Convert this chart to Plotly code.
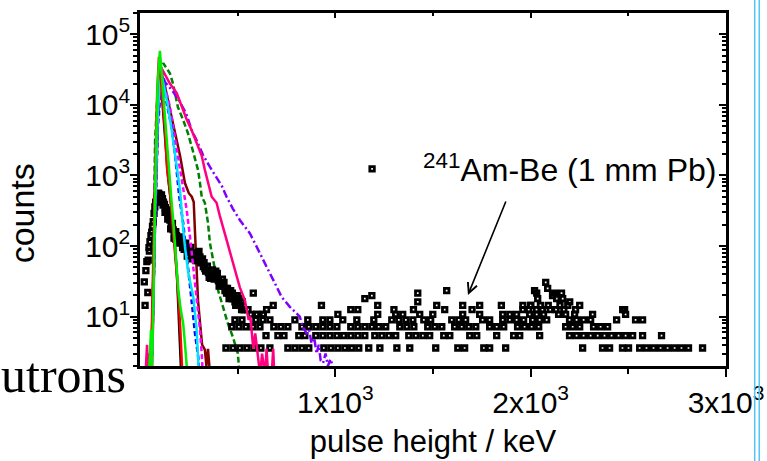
import math
import plotly.graph_objects as go

FONT = "Liberation Sans, Arial, sans-serif"

# ---------------- spectra (pulse height keV, counts) ----------------
black_x = [40, 60, 76, 90, 102, 112, 122, 132, 143, 155, 167, 179, 190, 200, 206, 214]
black_y = [1, 4, 300, 6000, 20000, 14000, 6000, 2400, 1000, 500, 230, 100, 35, 8, 2.5, 1]

red_x = [40, 60, 76, 88, 97, 106, 116, 128, 138, 153, 169, 188, 205, 213, 220]
red_y = [1, 6, 700, 15000, 48000, 24000, 10000, 4400, 1300, 600, 170, 42, 8, 2.7, 1]

green_x = [40, 52, 56, 62, 70, 78, 90, 102, 112, 123, 135, 148, 160, 172, 184, 196, 208, 221, 230, 239, 248]
green_y = [1, 3, 6.5, 2, 30, 800, 20000, 58000, 25000, 10000, 3500, 1000, 480, 200, 70, 24, 13, 8, 4.2, 2.2, 1]

cyan_x = [40, 62, 78, 92, 107, 124, 142, 162, 179, 196, 205, 218, 230, 247, 260, 273, 290, 298, 305]
cyan_y = [1, 3, 400, 8000, 30000, 18000, 10000, 4400, 2000, 1000, 616, 220, 98, 42, 28, 19, 6.5, 2, 1]

blue_x = [40, 62, 78, 92, 108, 120, 138, 162, 179, 188, 201, 221, 247, 264, 281, 298, 308]
blue_y = [1, 3, 300, 6000, 25000, 22000, 10000, 4900, 2000, 1070, 500, 212, 50, 17, 5.9, 2.7, 1]

magenta_x = [40, 62, 78, 92, 112, 128, 153, 170, 188, 213, 230, 239, 256, 271, 290, 307, 316, 325]
magenta_y = [1, 3, 250, 5000, 22000, 18000, 9500, 5000, 2300, 950, 449, 325, 135, 58, 17, 6.5, 3, 1]

maroon_x = [40, 62, 78, 92, 107, 125, 145, 165, 188, 205, 230, 250, 265, 275, 281, 290, 297, 307, 318, 332, 340, 348, 356, 364]
maroon_y = [1, 3, 300, 7000, 30000, 20000, 11000, 6000, 3150, 1900, 780, 560, 500, 420, 170, 42, 17, 8.4, 4, 3.4, 2, 3.5, 2.2, 1]

dkgreen_x = [40, 60, 70, 77, 90, 105, 119, 153, 169, 194, 220, 245, 264, 281, 297, 307, 316, 332, 348, 358, 384, 399, 424, 450, 476, 501, 515]
dkgreen_y = [1, 3, 60, 3000, 15000, 30000, 39000, 28000, 20000, 9300, 6200, 4000, 2600, 1800, 1200, 780, 500, 410, 214, 110, 46, 24, 14, 8, 5.1, 3, 1]

pink_x = [25, 30, 36, 42, 48, 55, 62, 70, 78, 90, 103, 116, 153, 188, 213, 239, 264, 290, 316, 332,
          348, 367, 392, 409, 443, 476, 511, 537, 546, 556, 565, 571, 580, 590, 597, 604, 615, 625, 640, 648,
          656, 665, 672, 682, 690]
pink_y = [1, 2.5, 4, 1.5, 3, 1, 2, 20, 800, 12000, 28000, 31000, 20000, 14700, 9500, 6200, 4400, 2900, 1900, 1200,
          780, 500, 410, 265, 123, 58, 26, 17, 12, 9, 10, 6, 3.5, 5.8, 4, 2.7, 1.5, 3, 1.5, 3.5,
          1.5, 2, 1.2, 3.5, 1]

violet_x = [40, 60, 70, 78, 92, 107, 113, 128, 169, 205, 239, 264, 290, 322, 358, 392, 420, 443, 475, 511,
            540, 562, 597, 625, 648, 690, 725, 767, 818, 835, 853, 866, 878, 892, 904, 915, 925, 937, 950, 962,
            975, 987, 995]
violet_y = [1, 2, 50, 2000, 14000, 26000, 28000, 21000, 15400, 11000, 7200, 4400, 3150, 1960, 1320, 950, 700, 500, 340, 234,
            180, 152, 98, 70, 51, 30, 19, 13.8, 10, 7, 5.8, 6.5, 4.2, 5, 3, 4, 2.4, 2.2, 3, 2,
            2.5, 2, 1]

# ---------------- 241Am-Be (1 mm Pb) points ----------------
ambe_low_x = [22, 26, 30, 35, 42, 46, 51, 56, 60, 64, 68, 72, 76, 80, 85, 90, 95, 100, 105, 110,
              115, 120, 125, 130, 137, 145, 153, 160, 170, 178, 187, 196, 205, 213, 221, 230, 238, 247, 256, 264,
              273, 281, 290, 298, 307, 315, 324, 332, 341, 350, 358, 367, 375, 384, 392, 401, 409, 418, 426, 435,
              443, 452, 460, 469, 477, 486, 494, 503, 511, 520, 528]
ambe_low_y = [31, 14.4, 45, 60, 63, 95, 115, 140, 158, 190, 221, 291, 360, 420, 480, 520, 560, 540, 500, 530,
              470, 420, 390, 350, 325, 280, 234, 200, 170, 150, 140, 129, 120, 112, 109, 98, 92, 88, 84, 80,
              77, 80, 79, 74, 70, 60, 51, 48, 45, 42, 41, 40, 38, 36, 37, 32.4, 30.6, 28.8, 27, 23.4,
              21.6, 21.6, 19.8, 18, 18, 16.2, 16.2, 14.4, 14.4, 12.6, 12.6]

ambe_scat_x = [40, 48, 140, 165, 182, 200, 218, 226, 242, 252, 268, 277, 286, 302, 311, 320, 336, 345, 362, 371,
               380, 396, 413, 430, 448, 464, 481, 498, 515, 535, 553, 567, 580, 597, 631, 648, 682,
               88, 98, 108, 118, 128, 142, 150, 157, 166, 174, 183, 191, 209, 234, 260, 294, 328, 354, 388, 405,
               422, 439, 456, 473, 490, 507, 524]
ambe_scat_y = [22, 85, 300, 190, 125, 110, 95, 90, 72, 95, 66, 70, 62, 84, 58, 66, 44, 52, 35, 46,
               34, 41, 29, 30.6, 25.2, 23.4, 19.8, 19.8, 14.4, 12.6, 12.6, 10.8, 21.6, 10.8, 10.8, 12.6, 14.4,
               450, 420, 430, 380, 300, 240, 250, 175, 210, 130, 160, 115, 135, 110, 96, 62, 58, 36, 44, 27,
               34, 25.2, 18, 21.6, 14.4, 18, 16.2]

ambe_hi_x = [929, 1079, 1115, 1151, 1187, 1217, 1422, 1422, 1519, 1570, 1652, 1739, 2031, 2036, 2077, 2087, 2123, 2158,
             2164, 2251, 2481, 2020, 2112, 2133, 2000, 2200, 1300, 1850]
ambe_hi_y = [14.4, 12.6, 12.6, 18, 19.8, 14.4, 21.6, 16.2, 14.4, 23.4, 14.4, 14.4, 21.6, 18, 30.6, 25.2, 21.6, 21.6,
             18, 14.4, 12.6, 23.4, 19.8, 18, 14.4, 16.2, 12.6, 14.4]

# tail: positions (keV) of points sitting on each count level
ambe_levels = [3.6, 5.4, 7.2, 9.0, 10.8, 12.6, 14.4]
ambe_level_x = [
    [440, 476, 511, 547, 583, 619, 665, 757, 793, 829, 864, 941, 977, 1013, 1049, 1084, 1120, 1171, 1228, 1315,
     1381, 1514, 1627, 1662, 1760, 1790, 1872, 2266, 2368, 2404, 2470, 2501, 2558, 2593, 2629, 2665, 2701, 2737,
     2772, 2808, 2880],
    [645, 706, 737, 813, 844, 900, 936, 972, 1008, 1043, 1079, 1115, 1151, 1202, 1238, 1274, 1309, 1376, 1412,
     1448, 1483, 1555, 1586, 1688, 1724, 1826, 1913, 1944, 2046, 2199, 2235, 2271, 2307, 2343, 2378, 2414, 2450,
     2486, 2522, 2573, 2670],
    [470, 506, 542, 578, 614, 685, 721, 757, 829, 864, 900, 936, 972, 1008, 1079, 1115, 1151, 1187, 1222, 1258,
     1330, 1366, 1402, 1473, 1509, 1545, 1611, 1647, 1683, 1719, 1790, 1826, 1862, 1933, 1969, 2005, 2041, 2179,
     2215, 2251, 2322, 2358, 2394],
    [486, 522, 593, 629, 665, 793, 859, 936, 972, 1038, 1110, 1197, 1289, 1325, 1361, 1397, 1453, 1488, 1596,
     1632, 1667, 1754, 1790, 1857, 1893, 1928, 1964, 2010, 2046, 2082, 2199, 2235, 2271, 2307, 2440, 2537, 2573],
    [597, 631, 1013, 1217, 1309, 1345, 1432, 1499, 1652, 1739, 1857, 1893, 1928, 1995, 2031, 2066, 2143, 2179,
     2225, 2317, 2486],
    [1400, 1560, 1700, 1960, 1990, 2030, 2060, 2100, 2130, 2170, 2230, 2471],
    [1960, 2000, 2050, 2090, 2150, 2190],
]

x_tickvals = [1000, 2000, 3000]
x_ticktext = ["1x10<sup>3</sup>", "2x10<sup>3</sup>", "3x10<sup>3</sup>"]
x_minor = [500, 1500, 2500]
y_tickvals = [10, 100, 1000, 10000, 100000]
y_ticktext = ["10<sup>1</sup>", "10<sup>2</sup>", "10<sup>3</sup>", "10<sup>4</sup>", "10<sup>5</sup>"]
y_minor = [m * 10 ** d for d in range(0, 6) for m in range(2, 10)]
Y_RANGE = [math.log10(2), math.log10(2e5)]
X_RANGE = [0, 3000]

ambe_x = ambe_low_x + ambe_scat_x + ambe_hi_x
ambe_y = ambe_low_y + ambe_scat_y + ambe_hi_y
for lvl, xs in zip(ambe_levels, ambe_level_x):
    ambe_x = ambe_x + xs
    ambe_y = ambe_y + [lvl] * len(xs)

fig = go.Figure()


def add_line(x, y, color, dash="solid", width=2.5):
    fig.add_trace(go.Scatter(x=x, y=y, mode="lines", line=dict(color=color, width=width, dash=dash),
                             showlegend=False, hoverinfo="skip"))


add_line(black_x, black_y, "#000000")
add_line(maroon_x, maroon_y, "#800000")
add_line(dkgreen_x, dkgreen_y, "#008000", dash="6px,3px")

fig.add_trace(go.Scatter(
    x=ambe_x, y=ambe_y, mode="markers", name="<sup>241</sup>Am-Be (1 mm Pb)",
    marker=dict(symbol="square-open", size=4.5, color="black", line=dict(width=2.8, color="black")),
    hoverinfo="skip"))

add_line(violet_x, violet_y, "#8000ff", dash="8px,3px,2px,3px")
add_line(pink_x, pink_y, "#ff0080")
add_line(magenta_x, magenta_y, "#ff00ff", dash="5px,3px")
add_line(blue_x, blue_y, "#0000ff", dash="5px,3px")
add_line(cyan_x, cyan_y, "#00e0ff")
add_line(red_x, red_y, "#ff0000")
add_line(green_x, green_y, "#00ee00")

# dummy trace for mirrored (inside-tick) axes
fig.add_trace(go.Scatter(x=[None], y=[None], xaxis="x2", yaxis="y2", showlegend=False, hoverinfo="skip"))

axis_common = dict(showline=True, linewidth=2.5, linecolor="black", showgrid=False, zeroline=False,
                   tickcolor="black", tickwidth=2)

fig.update_layout(
    width=767, height=461,
    margin=dict(l=140, r=41, t=13, b=95, autoexpand=False),
    paper_bgcolor="white", plot_bgcolor="white",
    font=dict(family=FONT, color="black", size=30),
    xaxis=dict(range=X_RANGE, tickmode="array", tickvals=x_tickvals, ticktext=x_ticktext,
               ticks="outside", ticklen=8, tickfont=dict(size=30),
               minor=dict(tickmode="array", tickvals=x_minor, ticks="outside", ticklen=5,
                          tickwidth=2, tickcolor="black"),
               title=dict(text="pulse height / keV", font=dict(size=31), standoff=13),
               **axis_common),
    yaxis=dict(type="log", range=Y_RANGE, tickmode="array", tickvals=y_tickvals, ticktext=y_ticktext,
               ticks="outside", ticklen=7, tickfont=dict(size=30), ticklabelstandoff=-6,
               minor=dict(tickmode="array", tickvals=y_minor, ticks="outside", ticklen=4,
                          tickwidth=1.5, tickcolor="black"),
               **axis_common),
    xaxis2=dict(range=X_RANGE, overlaying="x", side="top", anchor="y", tickmode="array",
                tickvals=x_tickvals, ticks="inside", ticklen=5, showticklabels=False,
                minor=dict(tickmode="array", tickvals=x_minor, ticks="inside", ticklen=3,
                           tickwidth=2, tickcolor="black"),
                **axis_common),
    yaxis2=dict(type="log", range=Y_RANGE, overlaying="y", side="right", anchor="x", tickmode="array",
                tickvals=y_tickvals, ticks="inside", ticklen=7, showticklabels=False,
                minor=dict(tickmode="array", tickvals=y_minor, ticks="inside", ticklen=4,
                           tickwidth=1.5, tickcolor="black"),
                **axis_common),
    showlegend=True,
    legend=dict(x=0.309, y=0.558, xanchor="left", yanchor="middle", bgcolor="rgba(0,0,0,0)",
                font=dict(size=32, family=FONT), itemwidth=92, borderwidth=0),
    annotations=[
        dict(x=1679, y=math.log10(20.3), ax=1876, ay=math.log10(449), xref="x", yref="y",
             axref="x", ayref="y", text="", showarrow=True, arrowhead=5, arrowsize=1.2,
             arrowwidth=1.6, arrowcolor="black"),
        dict(x=-0.201, y=0.433, xref="paper", yref="paper", xanchor="center", yanchor="middle",
             text="counts", textangle=-90, showarrow=False, font=dict(size=34, family=FONT)),
        dict(x=-0.02, y=-0.025, xref="paper", yref="paper", xanchor="right", yanchor="middle",
             text="utrons", showarrow=False,
             font=dict(family="Liberation Serif, Times New Roman, serif", size=50, color="black")),
    ],
    shapes=[
        dict(type="line", xref="paper", yref="paper", x0=1.049, x1=1.049, y0=-0.3, y1=1.1,
             line=dict(color="#55c3f5", width=1.5)),
        dict(type="line", xref="paper", yref="paper", x0=1.0567, x1=1.0567, y0=-0.3, y1=1.1,
             line=dict(color="#55c3f5", width=1.5)),
    ],
)

fig.write_html("out.html")
